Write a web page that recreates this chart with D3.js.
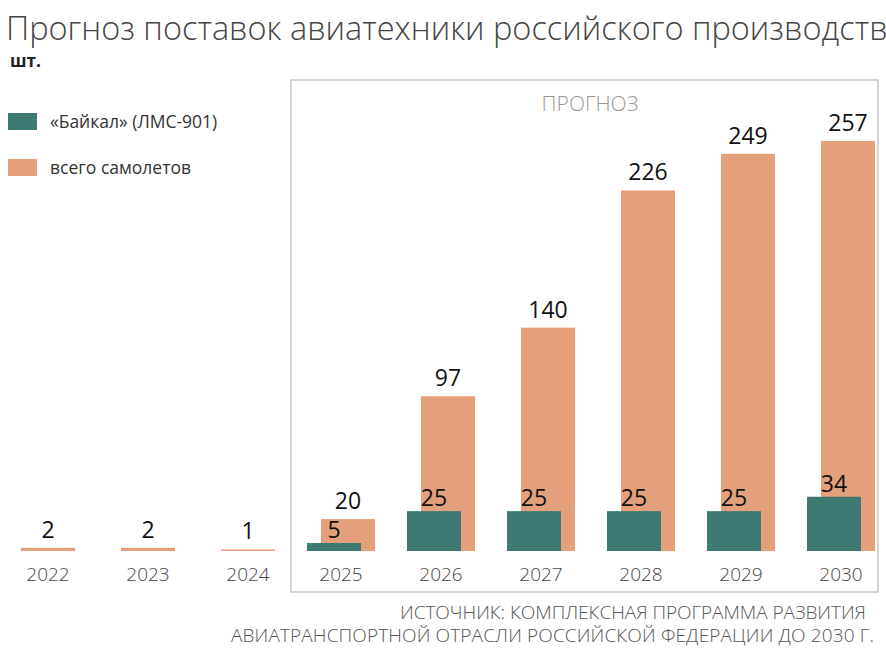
<!DOCTYPE html>
<html><head><meta charset="utf-8">
<script src="https://cdn.jsdelivr.net/npm/d3@7"></script>
<style>body{margin:0;background:#fff}</style></head>
<body><svg id="c" width="886" height="657"></svg>
<script>
const years = ["2022","2023","2024","2025","2026","2027","2028","2029","2030"];
const total = [2,2,1,20,97,140,226,249,257];
const baikal = [null,null,null,5,25,25,25,25,34];
const teal = "#3d7b72", orange = "#e4a07a";
const svg = d3.select("#c");
const font = "'Open Sans', sans-serif";
const x = d3.scaleBand().domain(years).range([0, 900]).paddingInner(0).paddingOuter(0);
const bx = d => x(d) - 3;
const y = d3.scaleLinear().domain([0,257]).range([551,141]);

svg.append("text").attr("x",6).attr("y",40).attr("font-family",font).attr("font-weight",300)
 .attr("font-size",32.5).attr("fill","#444").text("Прогноз поставок авиатехники российского производства");
svg.append("text").attr("x",10).attr("y",67).attr("font-family",font).attr("font-weight",700)
 .attr("font-size",17).attr("fill","#222").text("шт.");

svg.append("rect").attr("x",291).attr("y",80).attr("width",587).attr("height",512)
 .attr("fill","none").attr("stroke","#c8c8c8").attr("stroke-width",1.5);
svg.append("text").attr("x",590).attr("y",111).attr("text-anchor","middle").attr("font-family",font)
 .attr("font-weight",300).attr("font-size",21).attr("fill","#999").text("ПРОГНОЗ");

const leg = [["«Байкал» (ЛМС-901)",teal,113],["всего самолетов",orange,159]];
leg.forEach(([t,c,yy])=>{
  svg.append("rect").attr("x",8).attr("y",yy).attr("width",29).attr("height",17).attr("fill",c);
  svg.append("text").attr("x",50).attr("y",yy+15).attr("font-family",font).attr("font-size",17.5).attr("fill","#333").text(t);
});

const bw = 54;
svg.selectAll(".o").data(years).join("rect")
 .attr("x",d=>bx(d)+24).attr("width",bw)
 .attr("y",(d,i)=>y(total[i])).attr("height",(d,i)=>y(0)-y(total[i]))
 .attr("fill",orange);
svg.selectAll(".t").data(years.filter((d,i)=>baikal[i]!=null)).join("rect")
 .attr("x",d=>bx(d)+10).attr("width",bw)
 .attr("y",d=>y(baikal[years.indexOf(d)])).attr("height",d=>y(0)-y(baikal[years.indexOf(d)]))
 .attr("fill",teal);
svg.selectAll(".ol").data(years).join("text")
 .attr("x",d=>bx(d)+24+bw/2).attr("y",(d,i)=>y(total[i])-10)
 .attr("text-anchor","middle").attr("font-family",font).attr("font-weight",500).attr("font-size",23).attr("fill","#111")
 .text((d,i)=>total[i]);
svg.selectAll(".tl").data(years.filter((d,i)=>baikal[i]!=null)).join("text")
 .attr("x",d=>bx(d)+10+bw/2).attr("y",d=>y(baikal[years.indexOf(d)])-5)
 .attr("text-anchor","middle").attr("font-family",font).attr("font-weight",500).attr("font-size",23).attr("fill","#111")
 .text(d=>baikal[years.indexOf(d)]);
const xl = years.map((d,i)=>i<3 ? bx(d)+24+bw/2 : bx(d)+10+bw/2+7);
svg.selectAll(".yl").data(years).join("text")
 .attr("x",(d,i)=>xl[i]).attr("y",581).attr("text-anchor","middle").attr("font-family",font)
 .attr("font-weight",300).attr("font-size",19).attr("fill","#444").text(d=>d);

[["ИСТОЧНИК: КОМПЛЕКСНАЯ ПРОГРАММА РАЗВИТИЯ",619,866],["АВИАТРАНСПОРТНОЙ ОТРАСЛИ РОССИЙСКОЙ ФЕДЕРАЦИИ ДО 2030 Г.",642,874]].forEach(([t,yy,xx])=>{
  svg.append("text").attr("x",xx).attr("y",yy).attr("text-anchor","end").attr("font-family",font)
   .attr("font-weight",300).attr("font-size",19).attr("fill","#555").attr("textLength",xx===866?466:643).text(t);
});
</script></body></html>
